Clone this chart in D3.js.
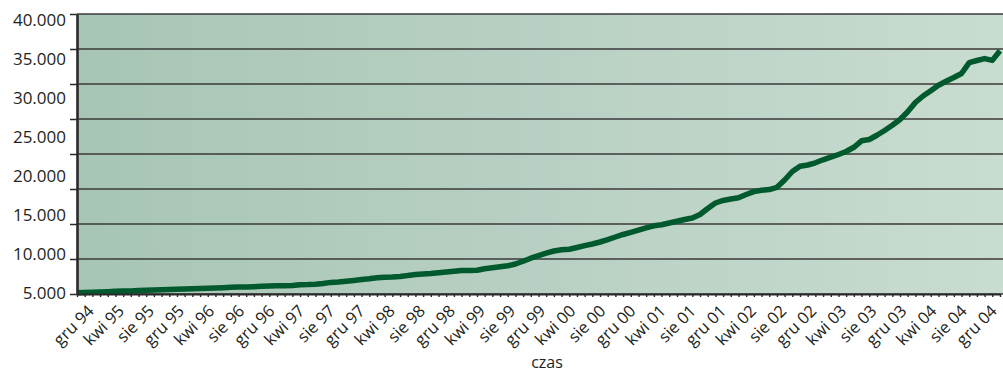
<!DOCTYPE html>
<html>
<head>
<meta charset="utf-8">
<script src="https://cdn.jsdelivr.net/npm/d3@7"></script>
<style>
  html, body { margin: 0; padding: 0; background: #ffffff; }
  svg { display: block; }
  text { font-family: "Open Sans", "Noto Sans", sans-serif; fill: #231f20; }
</style>
</head>
<body>
<svg id="chart" width="1003" height="376"></svg>
<script>
// Monthly values, December 1994 through December 2004 (121 months)
const values = [
  5160, 5190, 5230, 5260, 5290, 5330, 5360, 5390, 5430, 5460, 5490, 5530,
  5560, 5590, 5630, 5660, 5690, 5730, 5760, 5790, 5830, 5860, 5890, 5920,
  5960, 5990, 6025, 6025, 6060, 6150, 6175, 6225, 6310, 6450, 6510, 6600,
  6700, 6800, 6900, 7025, 7100, 7125, 7200, 7300, 7425, 7500, 7560, 7660,
  7750, 7850, 7925, 7925, 7960, 8150, 8275, 8400, 8525, 8750, 9090, 9475,
  9810, 10100, 10375, 10540, 10600, 10810, 11050, 11250, 11500, 11800, 12125, 12440,
  12710, 12975, 13275, 13525, 13650, 13875, 14090, 14310, 14500, 14940, 15690, 16375,
  16690, 16875, 17025, 17440, 17800, 17960, 18060, 18340, 19250, 20310, 20960, 21125,
  21400, 21775, 22100, 22440, 22810, 23340, 24150, 24310, 24840, 25440, 26090, 26810,
  27775, 28940, 29750, 30400, 31100, 31600, 32060, 32560, 33925, 34190, 34425, 34200,
  35400
];

// Category labels shown every fourth month
const tickLabels = [
  "gru 94", "kwi 95", "sie 95", "gru 95", "kwi 96", "sie 96", "gru 96",
  "kwi 97", "sie 97", "gru 97", "kwi 98", "sie 98", "gru 98", "kwi 99",
  "sie 99", "gru 99", "kwi 00", "sie 00", "gru 00", "kwi 01", "sie 01",
  "gru 01", "kwi 02", "sie 02", "gru 02", "kwi 03", "sie 03", "gru 03",
  "kwi 04", "sie 04", "gru 04"
];

// Value-axis labels
const yLabelValues = [5000, 10000, 15000, 20000, 25000, 30000, 35000, 40000];

const axisTitle = "czas";

// ---- layout ----
const plot = { left: 77, right: 1000, top: 14, bottom: 294, edge: 1003 };

const svg = d3.select("#chart");

const x = d3.scaleLinear().domain([0, values.length - 1]).range([plot.left, plot.right]);
const y = d3.scaleLinear().domain([5000, 40000]).range([plot.bottom, plot.top]);

// the value labels are spread slightly differently from the grid rules
const yLabelPos = d3.scaleLinear().domain([5000, 40000]).range([293, 20]);
const xLabelPos = d3.scalePoint().domain(tickLabels).range([95, 998]);

// grid rules divide the plot into eight equal bands
const gridBands = 8;
const [y0, y1] = y.domain();
const gridValues = d3.range(gridBands + 1).map(i => y0 + i * (y1 - y0) / gridBands);

// ---- background gradient ----
const defs = svg.append("defs");
const grad = defs.append("linearGradient")
  .attr("id", "plotBg").attr("x1", 0).attr("x2", 1).attr("y1", 0).attr("y2", 0);
grad.append("stop").attr("offset", "0%").attr("stop-color", "#a7c5b4");
grad.append("stop").attr("offset", "50%").attr("stop-color", "#b8d0c3");
grad.append("stop").attr("offset", "100%").attr("stop-color", "#c9dcd0");

svg.append("rect")
  .attr("x", plot.left).attr("y", plot.top)
  .attr("width", plot.edge - plot.left).attr("height", plot.bottom - plot.top)
  .attr("fill", "url(#plotBg)");

// ---- horizontal grid ----
svg.append("g").selectAll("line")
  .data(gridValues)
  .join("line")
  .attr("x1", plot.left).attr("x2", plot.edge)
  .attr("y1", d => y(d)).attr("y2", d => y(d))
  .attr("stroke", "#3a3a3a")
  .attr("stroke-width", 1.5);

// ---- data line ----
const line = d3.line()
  .x((d, i) => x(i))
  .y(d => y(d));

svg.append("path")
  .datum(values)
  .attr("d", line)
  .attr("fill", "none")
  .attr("stroke", "#005a2e")
  .attr("stroke-width", 5.5)
  .attr("stroke-linejoin", "round")
  .attr("stroke-linecap", "butt");

// ---- x axis: monthly tick marks ----
const xAxis = d3.axisBottom(x)
  .tickValues(d3.range(values.length))
  .tickSize(3)
  .tickSizeOuter(0)
  .tickFormat("");
const gx = svg.append("g")
  .attr("transform", `translate(0,${plot.bottom})`)
  .call(xAxis);
gx.select(".domain").attr("stroke", "#2a2a2a").attr("stroke-width", 2.2);
gx.selectAll(".tick line").attr("stroke", "#2a2a2a").attr("stroke-width", 1.4);

// ---- y axis: rule ticks ----
const yAxis = d3.axisLeft(y)
  .tickValues(gridValues)
  .tickSize(7)
  .tickSizeOuter(0)
  .tickFormat("");
const gy = svg.append("g")
  .attr("transform", `translate(${plot.left},0)`)
  .call(yAxis);
gy.select(".domain").attr("stroke", "#2a2a2a").attr("stroke-width", 2.6);
gy.selectAll(".tick line").attr("stroke", "#2a2a2a").attr("stroke-width", 1.5);

// ---- y labels ----
const fmt = v => d3.format(",")(v).replace(/,/g, ".");
svg.append("g").selectAll("text")
  .data(yLabelValues)
  .join("text")
  .attr("x", 66)
  .attr("y", d => yLabelPos(d))
  .attr("dy", "0.36em")
  .attr("text-anchor", "end")
  .style("font-size", "17px")
  .text(fmt);

// ---- x labels, rotated ----
svg.append("g").selectAll("text")
  .data(tickLabels)
  .join("text")
  .attr("transform", d => `translate(${xLabelPos(d)},312) rotate(-45)`)
  .attr("text-anchor", "end")
  .style("font-size", "16.5px")
  .text(d => d);

// ---- axis title ----
svg.append("text")
  .attr("x", 547).attr("y", 368)
  .attr("text-anchor", "middle")
  .style("font-size", "16px")
  .text(axisTitle);
</script>
</body>
</html>
